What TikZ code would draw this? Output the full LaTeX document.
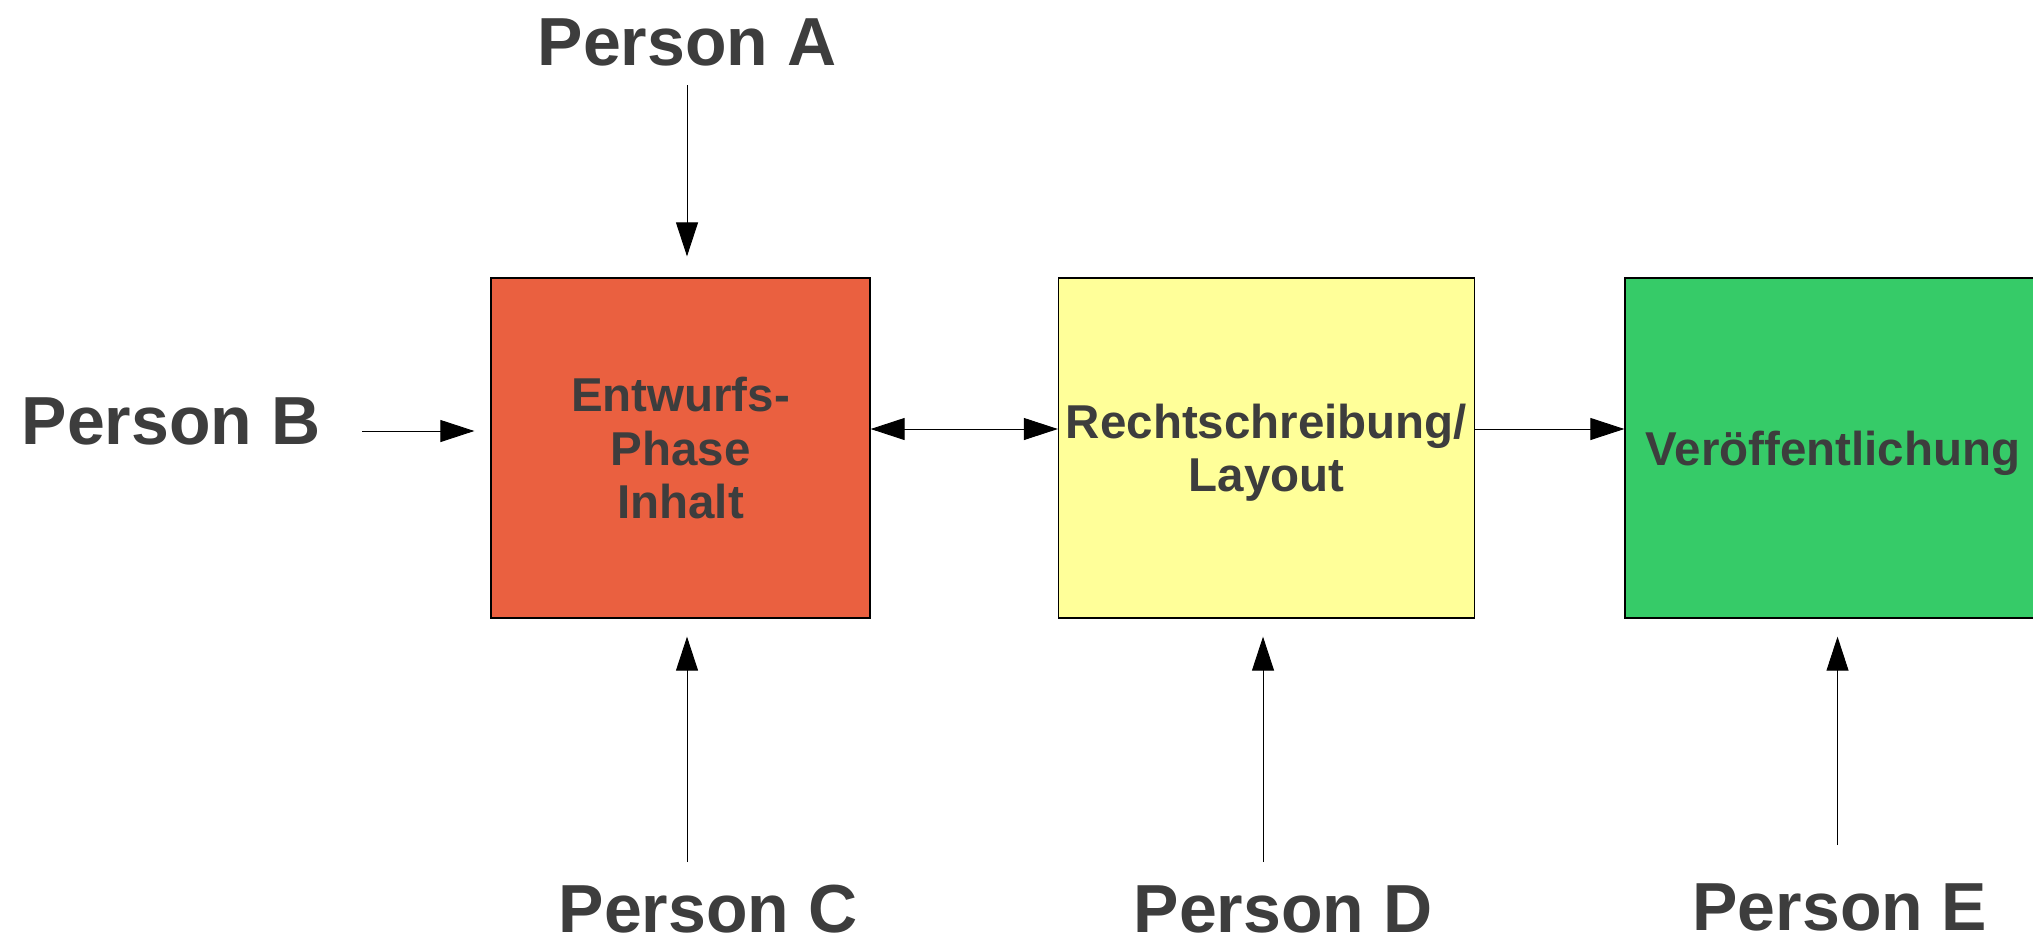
\documentclass[tikz,border=0pt]{standalone}
\usepackage{fontspec}
\setmainfont{Liberation Sans}
\usetikzlibrary{arrows.meta}
\definecolor{txt}{HTML}{3D3D3D}
\definecolor{boxred}{HTML}{EA6040}
\definecolor{boxyellow}{HTML}{FFFF99}
\definecolor{boxgreen}{HTML}{36CB68}
\tikzset{
  person/.style={font=\fontsize{68}{68}\selectfont\bfseries, text=txt, inner sep=0pt, anchor=base},
  stagebox/.style={draw=black, line width=1.3pt, inner sep=0pt, minimum height=340pt, text=txt,
    font=\fontsize{47.5}{53.5}\selectfont\bfseries, align=center, text depth=0pt},
  conn/.style={line width=0.9pt, draw=black, -{Triangle[length=34pt,width=22pt]}},
  dconn/.style={line width=0.9pt, draw=black, {Triangle[length=34pt,width=22pt]}-{Triangle[length=34pt,width=22pt]}}
}
\begin{document}
\begin{tikzpicture}[x=1pt,y=-1pt]
\clip (0,0) rectangle (2033,938);
\fill[white] (0,0) rectangle (2033,938);
% boxes
\node[stagebox, fill=boxred, minimum width=379pt] (ra) at (680.5,448) {Entwurfs-\\Phase\\Inhalt};
\node[stagebox, fill=boxyellow, minimum width=416pt] (yb) at (1266.5,448) {Rechtschreibung/\\Layout};
\node[stagebox, fill=boxgreen, minimum width=416pt] (gc) at (1833,448) {Veröffentlichung};
% persons
\node[person] (pa) at (687,65) {Person A};
\node[person] (pb) at (171,444) {Person B};
\node[person] (pc) at (708,932) {Person C};
\node[person] (pd) at (1283,932) {Person D};
\node[person] (pe) at (1840,930) {Person E};
% helper coordinates
\coordinate (a0) at (687,85);
\coordinate (b0) at (362,431);
\coordinate (c0) at (687,862);
\coordinate (d0) at (1263,862);
\coordinate (e0) at (1837.5,845);
% connectors
\draw[conn, shorten >=21pt] (a0) -- (a0 |- ra.north);
\draw[conn, shorten >=16pt] (b0) -- (b0 -| ra.west);
\draw[conn, shorten >=18pt] (c0) -- (c0 |- ra.south);
\draw[conn, shorten >=18pt] (d0) -- (d0 |- yb.south);
\draw[conn, shorten >=18pt] (e0) -- (e0 |- gc.south);
\draw[dconn] ([yshift=19pt]ra.east) -- ([yshift=19pt]yb.west);
\draw[conn] ([yshift=19pt]yb.east) -- ([yshift=19pt]gc.west);
\end{tikzpicture}
\end{document}
